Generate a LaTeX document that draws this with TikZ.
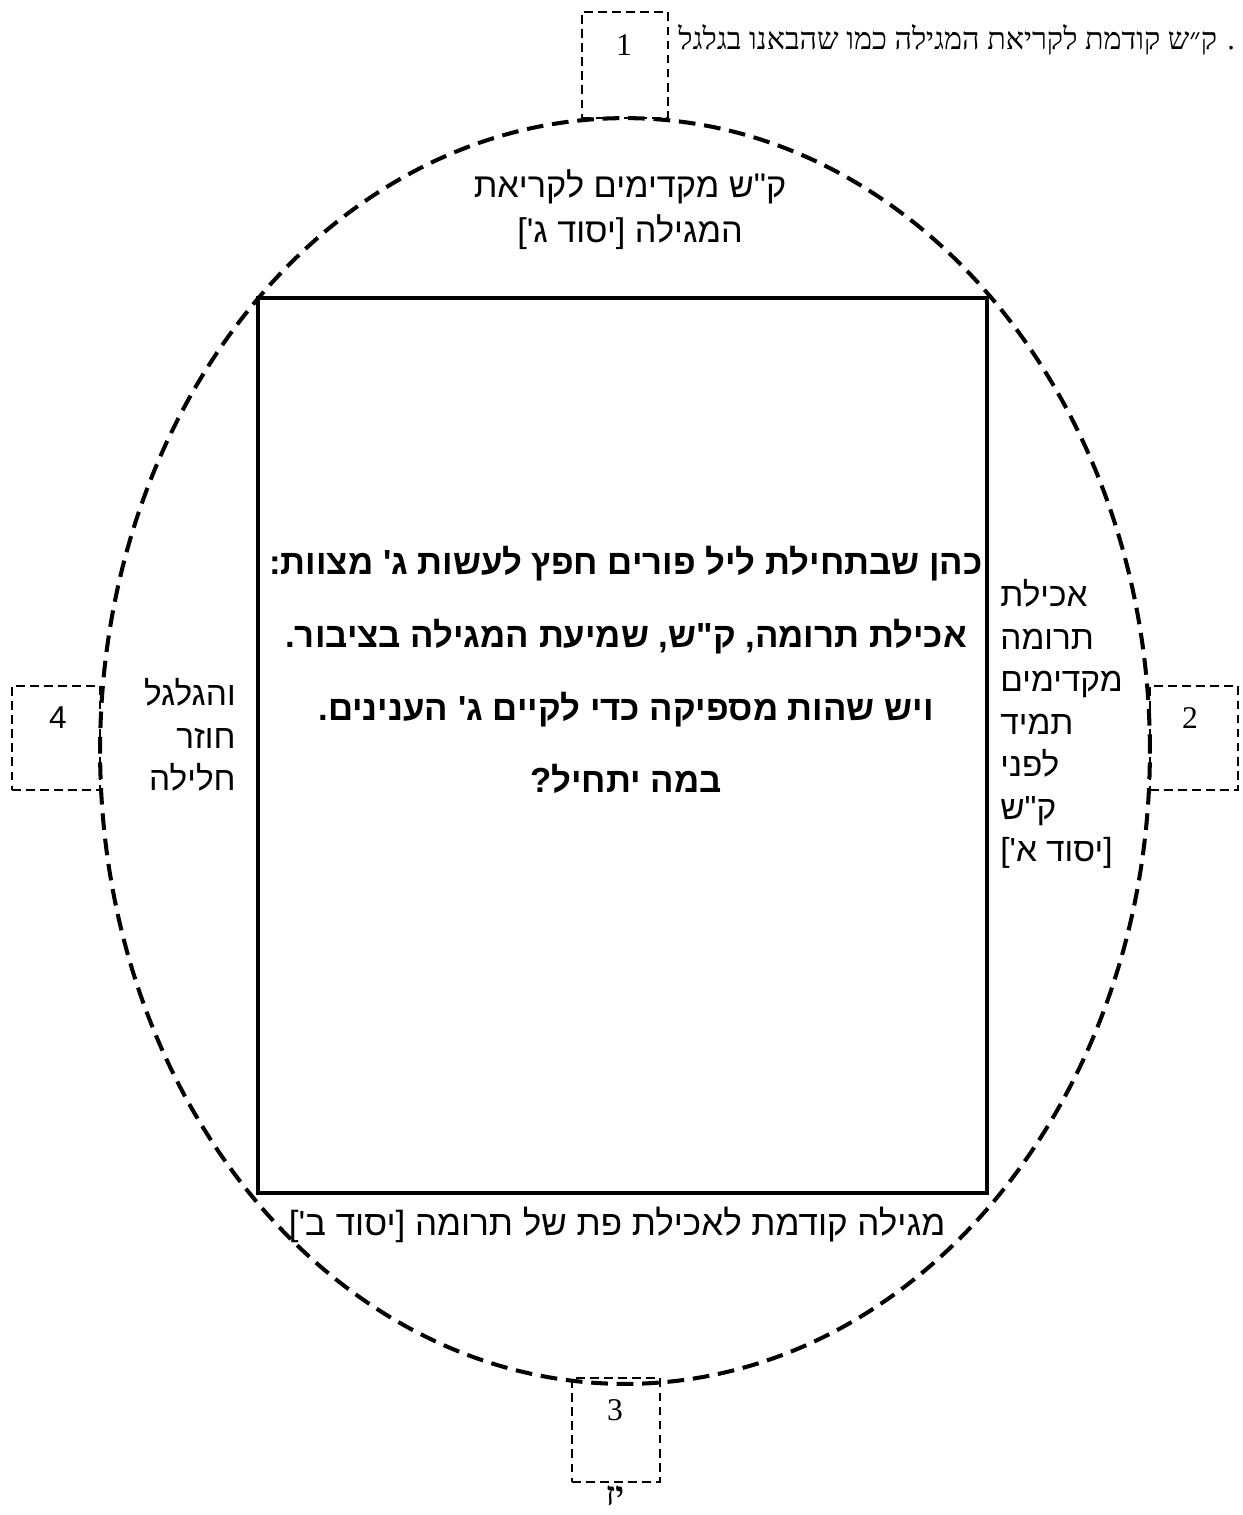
\documentclass[tikz,border=0pt]{standalone}
\usepackage{fontspec}
\newfontfamily\hebsans[Script=Hebrew]{Liberation Sans}
\newfontfamily\hebserif[Script=Hebrew]{Liberation Serif}
\TeXXeTstate=1
\newcommand\RL[1]{\beginR #1\endR}
\tikzset{
  ellipseline/.style={line width=2.3pt, dash pattern=on 9.5pt off 5pt},
  mainbox/.style={draw, line width=2pt, minimum width=14.58cm, minimum height=17.9cm, inner sep=0pt},
  numbox/.style={draw, line width=0.8pt, dash pattern=on 5pt off 3pt, inner sep=0pt},
  numtxt/.style={font=\hebserif\fontsize{18}{20}\selectfont, inner sep=0pt},
  hebtxt/.style={font=\hebsans\fontsize{19}{24.2}\selectfont, inner sep=0pt},
  maintxt/.style={font=\hebsans\bfseries\fontsize{19.8}{41.4}\selectfont, inner sep=0pt, align=center},
}
\begin{document}
\begin{tikzpicture}[x=0.02cm, y=-0.02cm]
\useasboundingbox (0,0) rectangle (1242,1515);
% number boxes
\node[numbox, minimum width=1.72cm, minimum height=2.12cm] (b1) at (625,65) {};
\node[numbox, minimum width=1.76cm, minimum height=2.08cm] (b2) at (1194,738) {};
\node[numbox, minimum width=1.76cm, minimum height=2.08cm] (b3) at (616,1430) {};
\node[numbox, minimum width=1.76cm, minimum height=2.08cm] (b4) at (56,738) {};
\node[numtxt] (n1) at (624,45) {1};
\node[numtxt] (n2) at (1190,718) {2};
\node[numtxt] (n3) at (615,1410) {3};
\node[numtxt, font=\hebsans\fontsize{18}{20}\selectfont] (n4) at (58,718) {4};
% ellipse
\draw[ellipseline] (625,751) ellipse [x radius=10.5cm, y radius=12.66cm];
% main box
\node[mainbox] (main) at (622.5,745.5) {};
\node[maintxt] (q) at (626,670) {\RL{כהן שבתחילת ליל פורים חפץ לעשות ג' מצוות:}\\\RL{אכילת תרומה, ק"ש, שמיעת המגילה בציבור.}\\\RL{ויש שהות מספיקה כדי לקיים ג' הענינים.}\\\RL{במה יתחיל?}};
% side texts
\node[hebtxt, font=\hebsans\fontsize{19.5}{25.5}\selectfont, align=center] (top) at (630,210) {\RL{ק"ש מקדימים לקריאת}\\\RL{המגילה [יסוד ג']}};
\node[hebtxt, align=left, anchor=west] (right) at (1000,724) {\RL{אכילת}\\\RL{תרומה}\\\RL{מקדימים}\\\RL{תמיד}\\\RL{לפני}\\\RL{ק"ש}\\\RL{[יסוד א']}};
\node[hebtxt, align=right, anchor=east] (left) at (236,735) {\RL{והגלגל}\\\RL{חוזר}\\\RL{חלילה}};
\node[hebtxt, font=\hebsans\fontsize{19.9}{24.4}\selectfont] (bottom) at (617,1225) {\RL{מגילה קודמת לאכילת פת של תרומה [יסוד ב']}};
% top right note and page number
\node[font=\hebserif\fontsize{17.3}{19}\selectfont, inner sep=0pt, anchor=west] (note) at (678,40) {\RL{. ק״ש קודמת לקריאת המגילה כמו שהבאנו בגלגל}};
\node[font=\hebserif\bfseries\fontsize{19}{21}\selectfont, inner sep=0pt] (page) at (615,1496) {\RL{יז}};
\end{tikzpicture}
\end{document}
